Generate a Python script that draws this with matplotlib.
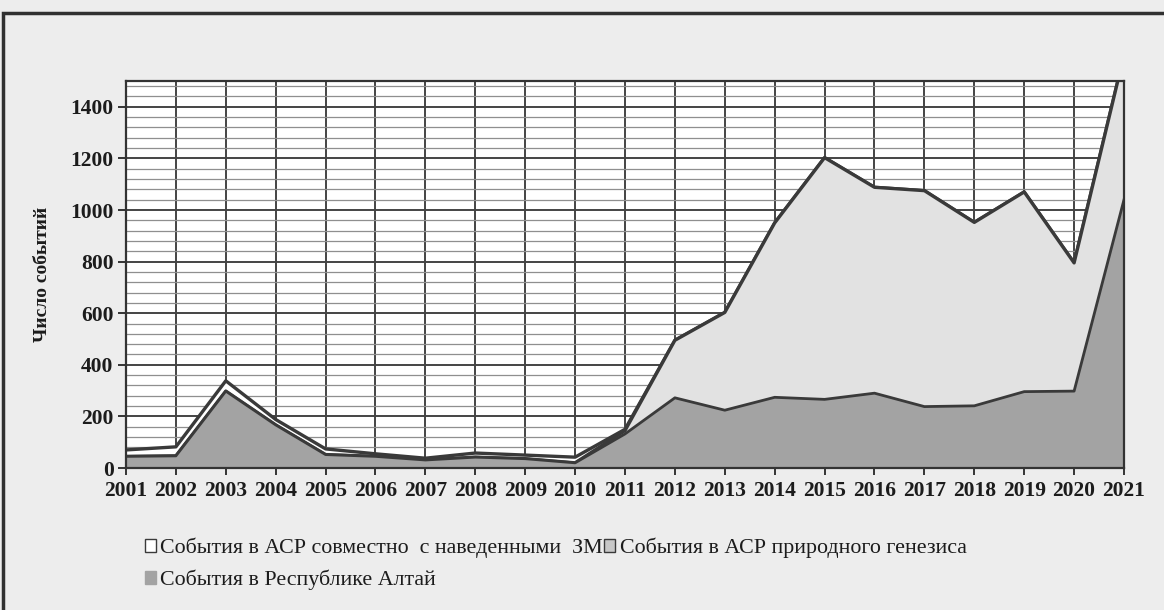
#!/usr/bin/env python3
"""Area chart: число событий по годам (АСР / Республика Алтай)."""
import numpy as np
import matplotlib
matplotlib.use("Agg")
import matplotlib.pyplot as plt
from matplotlib.patches import Patch, Rectangle

years = list(range(2001, 2022))

# top outline: events in ASR together with induced earthquakes
joint = [70, 82, 338, 188, 74, 55, 38, 58, 50, 42, 150, 495, 603, 950, 1203,
         1088, 1075, 952, 1070, 795, 1600]
# light gray: events in ASR of natural genesis
natural = [45, 47, 298, 167, 52, 45, 31, 42, 36, 20, 145, 495, 603, 950, 1203,
           1088, 1075, 952, 1070, 795, 1600]
# dark gray: events in the Altai Republic
altai = [45, 47, 298, 167, 52, 45, 31, 42, 36, 20, 132, 272, 224, 274, 266,
         290, 238, 241, 296, 298, 1040]

legend_labels = ["События в АСР совместно  с наведенными  ЗМ",
                 "События в АСР природного генезиса",
                 "События в Республике Алтай"]

W, H = 1164, 610
SERIF = ["Liberation Serif", "DejaVu Serif"]
plt.rcParams["font.family"] = SERIF

BG = "#ededed"
LINE = "#3a3a3a"
LIGHT = "#e2e2e2"
DARK = "#a3a3a3"

fig = plt.figure(figsize=(W / 100, H / 100), dpi=100, facecolor=BG)
fig.patches.append(Rectangle((3 / W, -0.1), 1.2, 1 - 13 / H + 0.1,
                             transform=fig.transFigure, fill=False,
                             edgecolor="#303030", lw=2.5))

ax = fig.add_axes([126 / W, (H - 468) / H, (1124 - 126) / W, (468 - 81) / H])
ax.set_facecolor("white")
ax.set_xlim(years[0], years[-1])
ax.set_ylim(0, 1500)
ax.set_axisbelow(True)

x = np.array(years)
ax.fill_between(x, 0, joint, facecolor="white", lw=0, zorder=2)
ax.plot(x, joint, color=LINE, lw=2.4, zorder=2.1)
ax.fill_between(x, 0, natural, facecolor=LIGHT, lw=0, zorder=3)
ax.plot(x, natural, color=LINE, lw=2.4, zorder=3.1)
ax.fill_between(x, 0, altai, facecolor=DARK, lw=0, zorder=4)
ax.plot(x, altai, color=LINE, lw=2.0, zorder=4.1)

# grid
ax.set_yticks(np.arange(0, 1401, 200))
ax.set_yticks(np.arange(0, 1501, 40), minor=True)
ax.set_xticks(years)
ax.grid(axis="y", which="major", color="#444444", lw=1.4)
ax.grid(axis="y", which="minor", color="#8f8f8f", lw=0.9)
ax.grid(axis="x", which="major", color="#444444", lw=1.4)

for side in ("top", "right", "left", "bottom"):
    ax.spines[side].set_color("#333333")
    ax.spines[side].set_linewidth(1.6)
    ax.spines[side].set_zorder(5)

ax.tick_params(axis="y", which="major", length=6, width=1.4, color="#333333",
               labelsize=15.5, pad=3)
ax.tick_params(axis="y", which="minor", length=0)
ax.tick_params(axis="x", length=5, width=1.4, color="#333333",
               labelsize=15.5, pad=4)
for lab in ax.get_xticklabels() + ax.get_yticklabels():
    lab.set_fontweight("bold")
    lab.set_color("#1c1c1c")

ax.set_ylabel("Число событий", fontsize=14, fontweight="bold",
              color="#1c1c1c", labelpad=14)

# legend
handles = [Patch(facecolor="white", edgecolor=LINE, lw=1.0),
           Patch(facecolor="#c8c8c8", edgecolor=LINE, lw=1.0),
           Patch(facecolor=DARK, edgecolor=DARK, lw=1.0)]
leg1 = fig.legend(handles[:2], legend_labels[:2], ncol=2, loc="center left",
                  bbox_to_anchor=(134 / W, 1 - 548 / H), frameon=False,
                  fontsize=15.8, handlelength=0.5, handleheight=0.5,
                  handletextpad=0.2, columnspacing=0.05, borderpad=0)
leg2 = fig.legend(handles[2:], legend_labels[2:], loc="center left",
                  bbox_to_anchor=(134 / W, 1 - 580 / H), frameon=False,
                  fontsize=15.8, handlelength=0.5, handleheight=0.5,
                  handletextpad=0.2, borderpad=0)
for leg in (leg1, leg2):
    for t in leg.get_texts():
        t.set_color("#1c1c1c")

fig.savefig("out.png", dpi=100, facecolor=BG)
plt.close(fig)
